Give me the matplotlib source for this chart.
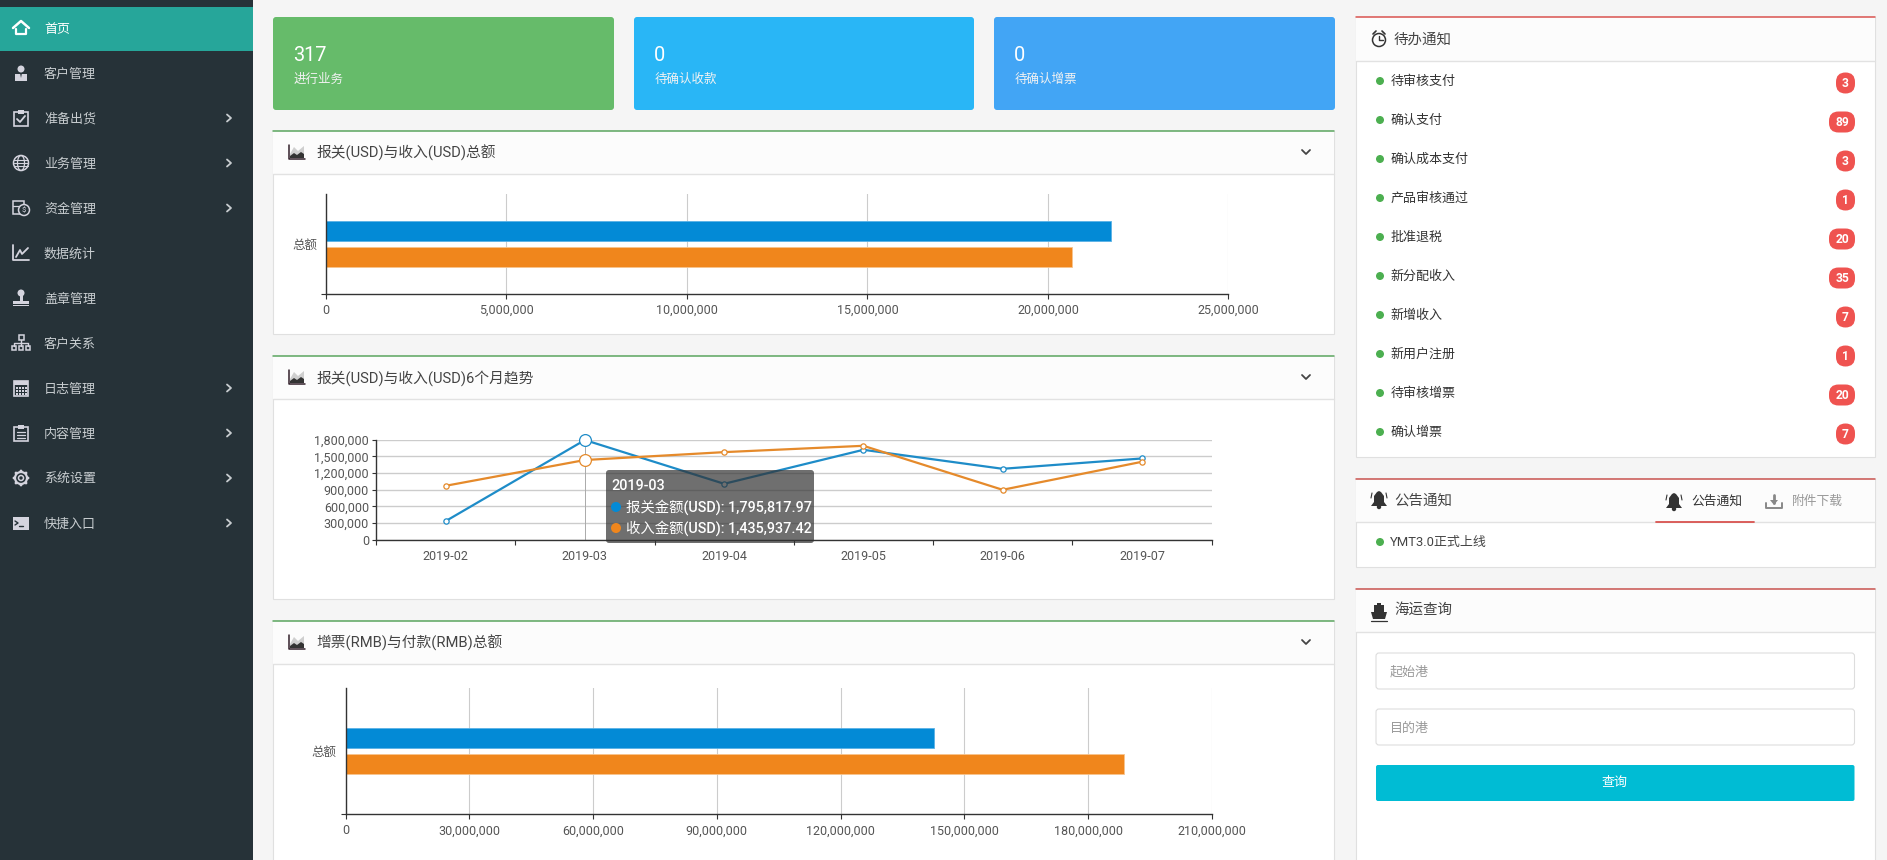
import matplotlib
matplotlib.use("Agg")
import matplotlib.pyplot as plt
from matplotlib.patches import Circle, Ellipse, FancyBboxPatch, Polygon, Rectangle
from matplotlib.ticker import FuncFormatter

plt.rcParams["font.family"] = ["Roboto", "Noto Sans CJK SC", "DejaVu Sans"]

W, H = 1887, 860
PX = 0.72  # one pixel in points at dpi 100

BLUE = "#038ad6"
ORANGE = "#f0861c"

# sidebar
menu_labels = ["首页", "客户管理", "准备出货", "业务管理", "资金管理", "数据统计",
               "盖章管理", "客户关系", "日志管理", "内容管理", "系统设置", "快捷入口"]
menu_icons = ["house", "person", "check", "globe", "money", "trend",
              "stamp", "tree", "calendar", "list", "gear", "term"]
menu_has_sub = [False, False, True, True, True, False, False, False, True, True, True, True]

# stat cards
card_values = ["317", "0", "0"]
card_labels = ["进行业务", "待确认收款", "待确认增票"]
card_colors = ["#66bb6a", "#29b6f6", "#42a5f5"]

# first bar chart
usd_category = ["总额"]
usd_declared = [21760000]
usd_income = [20670000]
usd_ticks = [0, 5000000, 10000000, 15000000, 20000000, 25000000]

# trend chart
months = ["2019-02", "2019-03", "2019-04", "2019-05", "2019-06", "2019-07"]
trend_declared = [336000, 1795817.97, 1008000, 1620000, 1278000, 1464000]
trend_income = [972000, 1435937.42, 1578000, 1692000, 900000, 1404000]
trend_ticks = [0, 300000, 600000, 900000, 1200000, 1500000, 1800000]
tooltip_index = 1

# second bar chart
rmb_category = ["总额"]
rmb_invoice = [142600000]
rmb_payment = [188700000]
rmb_ticks = [0, 30000000, 60000000, 90000000, 120000000, 150000000, 180000000, 210000000]

# right column
todo_labels = ["待审核支付", "确认支付", "确认成本支付", "产品审核通过", "批准退税",
               "新分配收入", "新增收入", "新用户注册", "待审核增票", "确认增票"]
todo_counts = [3, 89, 3, 1, 20, 35, 7, 1, 20, 7]


def px_axes(x0, y0, x1, y1, zorder=1):
    """Axes placed by its pixel box, y measured from the top of the picture."""
    ax = fig.add_axes([x0 / W, 1 - y1 / H, (x1 - x0) / W, (y1 - y0) / H], zorder=zorder)
    return ax


def label(x, y, s, size=13, color="#333333", ha="left", target=None, **kw):
    # centred text sits a little high compared with the browser rendering
    (target or ui).text(x, y + 1.2, s, fontsize=size * PX, color=color, ha=ha, va="center", **kw)


def rrect(x0, y0, x1, y1, color, r=3, target=None, edge="none", lw=0, alpha=None, z=2):
    p = FancyBboxPatch((x0 + r, y0 + r), x1 - x0 - 2 * r, y1 - y0 - 2 * r,
                       boxstyle=f"round,pad={r},rounding_size={r}", fc=color, ec=edge,
                       lw=lw, alpha=alpha, zorder=z)
    (target or ui).add_patch(p)


def poly(pts, color="#333333", lw=1.4, target=None, closed=False, fill=False, z=4):
    xs, ys = zip(*pts)
    if fill:
        ui.add_patch(Polygon(pts, fc=color, ec="none", zorder=z))
    else:
        if closed:
            xs, ys = xs + xs[:1], ys + ys[:1]
        ui.plot(xs, ys, color=color, lw=lw, solid_capstyle="round", zorder=z)


def box(x0, y0, x1, y1, fc="none", ec="none", lw=1.0, z=4):
    ui.add_patch(Rectangle((x0, y0), x1 - x0, y1 - y0, fc=fc, ec=ec, lw=lw, zorder=z))


def dot(x, y, r, fc="none", ec="none", lw=1.0, z=4):
    ui.add_patch(Circle((x, y), r, fc=fc, ec=ec, lw=lw, zorder=z))


def icon(kind, x, y, c):
    if kind == "house":
        poly([(x - 8, y), (x, y - 7), (x + 8, y)], c, 1.8)
        poly([(x - 5, y + 1), (x - 5, y + 6), (x + 5, y + 6), (x + 5, y + 1)], c, 1.6)
        box(x - 5, y + 5, x + 5, y + 7, fc=c)
    elif kind == "person":
        dot(x, y - 4, 3.5, fc=c)
        poly([(x - 6, y + 1), (x + 6, y + 1), (x + 6, y + 8), (x - 6, y + 8)], c, fill=True)
        poly([(x - 1, y), (x + 1, y), (x, y + 5)], "#263238", fill=True)
    elif kind == "check":
        box(x - 7, y - 6, x + 7, y + 8, ec=c, lw=1.2)
        box(x - 3, y - 8, x + 3, y - 4, fc=c)
        poly([(x - 4, y + 1), (x - 1, y + 4), (x + 4, y - 2)], c, 1.3)
    elif kind == "globe":
        dot(x, y, 7.5, ec=c, lw=1.1)
        ui.add_patch(Ellipse((x, y), 7, 15, fc="none", ec=c, lw=0.9, zorder=4))
        for dy in (-3, 0, 3):
            poly([(x - 7, y + dy), (x + 7, y + dy)], c, 0.8)
    elif kind == "money":
        box(x - 8, y - 7, x + 3, y + 6, ec=c, lw=1.1)
        poly([(x - 8, y - 2), (x + 3, y - 2)], c, 0.9)
        dot(x + 3, y + 2, 5.5, fc="#263238", ec=c, lw=1.1, z=5)
        label(x + 3, y + 1, "$", 8, c, ha="center", zorder=6)
    elif kind == "trend":
        poly([(x - 8, y - 8), (x - 8, y + 7), (x + 8, y + 7)], c, 1.3)
        poly([(x - 5, y + 4), (x - 1, y - 3), (x + 1, y + 1), (x + 7, y - 5)], c, 1.3)
    elif kind == "stamp":
        dot(x, y - 5, 3.5, fc=c)
        box(x - 1.5, y - 3, x + 1.5, y + 3, fc=c)
        box(x - 8, y + 3, x + 8, y + 6, fc=c)
        box(x - 8, y + 7, x + 8, y + 8, fc=c)
    elif kind == "tree":
        box(x - 2.5, y - 8, x + 2.5, y - 3, ec=c, lw=1.1)
        for dx in (-7, 0, 7):
            box(x + dx - 2, y + 3, x + dx + 2, y + 7, ec=c, lw=1.1)
        poly([(x, y - 3), (x, y + 3)], c, 1)
        poly([(x - 7, y + 3), (x - 7, y), (x + 7, y), (x + 7, y + 3)], c, 1)
    elif kind == "calendar":
        box(x - 7, y - 7, x + 7, y + 8, ec=c, lw=1.2)
        box(x - 7, y - 7, x + 7, y - 3, fc=c)
        for dy in (0, 3, 6):
            for dx in (-4, -1, 2, 5):
                box(x + dx - 1, y + dy - 1, x + dx + 1, y + dy + 1, fc=c)
    elif kind == "list":
        box(x - 7, y - 6, x + 7, y + 8, ec=c, lw=1.2)
        box(x - 3, y - 8, x + 3, y - 4, fc=c)
        for dy in (-1, 2, 5):
            poly([(x - 4, y + dy), (x + 4, y + dy)], c, 0.9)
    elif kind == "gear":
        dot(x, y, 6, ec=c, lw=1.6)
        dot(x, y, 2.5, ec=c, lw=1.1)
        for dx, dy in [(0, -7), (0, 7), (-7, 0), (7, 0), (5, 5), (-5, 5), (5, -5), (-5, -5)]:
            dot(x + dx, y + dy, 1.4, fc=c)
    elif kind == "term":
        box(x - 8, y - 6, x + 8, y + 7, fc=c)
        poly([(x - 6, y - 2), (x - 3, y), (x - 6, y + 2)], "#263238", 1)
        poly([(x - 2, y + 3), (x + 2, y + 3)], "#263238", 1)


def area_icon(x, y):
    poly([(x - 8, y - 7), (x - 8, y + 7), (x + 8, y + 7)], "#33202a", 1.1)
    poly([(x - 7, y + 2), (x - 3, y - 5), (x + 1, y - 1), (x + 7, y - 6), (x + 7, y + 6), (x - 7, y + 6)],
         "#cfcfcf", fill=True)
    poly([(x - 7, y + 4), (x - 3, y + 1), (x, y + 3), (x + 4, y), (x + 7, y + 2), (x + 7, y + 6), (x - 7, y + 6)],
         "#333333", fill=True, z=5)


def bell(x, y, c="#333333"):
    poly([(x - 8, y + 7), (x - 5, y + 3), (x - 5, y - 3), (x - 2, y - 7), (x, y - 8), (x + 2, y - 7),
          (x + 5, y - 3), (x + 5, y + 3), (x + 8, y + 7)], c, fill=True)
    dot(x, y + 8, 2.2, fc=c)
    poly([(x - 8, y - 1), (x - 7, y - 6)], c, 0.8)
    poly([(x + 8, y - 1), (x + 7, y - 6)], c, 0.8)


def panel(x0, y0, x1, y1, header_y, accent):
    """Card with a coloured top rule and a light header band."""
    box(x0, y0, x1, y1, fc="white", ec="#e0e0e0", lw=0.8, z=1)
    box(x0, y0, x1, header_y, fc="#fcfcfc", z=1)
    poly([(x0, header_y), (x1, header_y)], "#e2e2e2", 1.0, z=2)
    poly([(x0, y0), (x1, y0)], accent, 1.1, z=2)


def comma(v, _pos=None):
    return f"{v:,.0f}"


def style_axes(ax):
    ax.set_facecolor("none")
    for side in ("top", "right"):
        ax.spines[side].set_visible(False)
    for side in ("left", "bottom"):
        ax.spines[side].set_color("#333333")
        ax.spines[side].set_linewidth(1.0)
    ax.set_axisbelow(True)
    ax.tick_params(axis="both", which="both", color="#333333", labelcolor="#555555",
                   labelsize=12.5 * PX, width=0.8, length=5 * PX, pad=6 * PX)


def hbar_chart(box_px, categories, first, second, ticks, bar_h, offset, tick_pad):
    ax = px_axes(*box_px)
    style_axes(ax)
    ax.barh([offset * -1], first, height=bar_h, color=BLUE, edgecolor="#5ab2e6", lw=0.6)
    ax.barh([offset], second, height=bar_h, color=ORANGE, edgecolor="#f7c48e", lw=0.6)
    ax.set_xlim(ticks[0], ticks[-1])
    ax.set_ylim(0.5, -0.5)
    ax.set_xticks(ticks)
    ax.xaxis.set_major_formatter(FuncFormatter(comma))
    ax.set_yticks([0], categories)
    ax.set_yticks([0.5], minor=True)
    ax.tick_params(axis="y", which="major", length=0, pad=9 * PX)
    ax.tick_params(axis="x", pad=tick_pad * PX)
    ax.grid(axis="x", color="#cccccc", lw=0.8)
    return ax


fig = plt.figure(figsize=(W / 100, H / 100), dpi=100, facecolor="#f5f5f5")

ui = fig.add_axes([0, 0, 1, 1], zorder=0)
ui.set_xlim(0, W)
ui.set_ylim(H, 0)
ui.axis("off")

# top layer, only for the tooltip that sits over the trend chart
top = fig.add_axes([0, 0, 1, 1], zorder=5)
top.set_xlim(0, W)
top.set_ylim(H, 0)
top.axis("off")

# sidebar
box(0, 0, 253, H, fc="#263238", z=1)
box(0, 7, 253, 51, fc="#26a69a", z=2)
for i, (name, kind, sub) in enumerate(zip(menu_labels, menu_icons, menu_has_sub)):
    y = 28 + i * 45
    active = i == 0
    icon(kind, 21, y, "white" if active else "#d4d4de")
    label(44, y, name, 13, "white" if active else "#c8cdd0", zorder=5)
    if sub:
        poly([(227, y - 3.5), (231, y), (227, y + 3.5)], "#c8cdd0", 1.3)

# stat cards
for (x0, x1), val, txt, col in zip([(273, 614), (634, 974), (994, 1335)],
                                   card_values, card_labels, card_colors):
    rrect(x0, 17, x1, 110, col)
    label(x0 + 20, 54, val, 20, "white", zorder=5)
    label(x0 + 21, 78, txt, 12.5, "#f2f2f2", zorder=5)

# left panels
panel(273, 131, 1334, 334, 173.5, "#5ba55f")
panel(273, 356, 1334, 599, 398.5, "#5ba55f")
panel(273, 621, 1334, H + 5, 663.5, "#5ba55f")
for y, title in [(152, "报关(USD)与收入(USD)总额"), (377, "报关(USD)与收入(USD)6个月趋势"),
                 (642, "增票(RMB)与付款(RMB)总额")]:
    area_icon(297, y)
    label(316, y, title, 14.7, "#444444", zorder=5)
    poly([(1302, y - 2), (1306, y + 2), (1310, y - 2)], "#444444", 1.3)

hbar_chart((326, 194, 1228.4, 294.3), usd_category, usd_declared, usd_income, usd_ticks, 0.2, 0.13, 4.5)
hbar_chart((345.5, 688, 1211.8, 814), rmb_category, rmb_invoice, rmb_payment, rmb_ticks, 0.159, 0.103, 5.5)

# trend chart
ax = px_axes(376, 439.8, 1211.5, 539.8)
style_axes(ax)
pos = list(range(len(months)))
ax.grid(axis="y", color="#cccccc", lw=1.0)
ax.plot([pos[tooltip_index]] * 2, [0, trend_ticks[-1]], color="#aaaaaa", lw=0.7)
for series, col in [(trend_declared, "#1e8cc8"), (trend_income, "#e58a2b")]:
    ax.plot(pos, series, color=col, lw=1.6, marker="o", ms=3.8, mfc="white", mec=col,
            mew=0.9, clip_on=False)
    ax.plot(pos[tooltip_index], series[tooltip_index], marker="o", ms=8.5, mfc="white",
            mec=col, mew=0.9, clip_on=False)
ax.set_xlim(-0.5, len(months) - 0.5)
ax.set_ylim(trend_ticks[0], trend_ticks[-1])
ax.set_yticks(trend_ticks)
ax.yaxis.set_major_formatter(FuncFormatter(comma))
ax.set_xticks(pos, months)
ax.set_xticks([p - 0.5 for p in pos] + [pos[-1] + 0.5], minor=True)
ax.tick_params(axis="x", which="major", length=0, pad=10 * PX)
ax.tick_params(axis="y", length=4 * PX, pad=3 * PX)

# tooltip
rrect(606, 470, 814, 543, "#323232", r=3, target=top, alpha=0.7)
label(611, 485, months[tooltip_index], 14.4, "white", target=top, zorder=6, fontweight="medium")
for y, name, series, col in [(506, "报关金额(USD)", trend_declared, BLUE),
                             (527, "收入金额(USD)", trend_income, ORANGE)]:
    top.add_patch(Circle((616, y + 1), 5, fc=col, ec="none", zorder=6))
    label(626, y, f"{name}: {series[tooltip_index]:,.2f}", 14.4, "white", target=top, zorder=6,
          fontweight="medium")

# right column: to-do list
panel(1356, 17, 1875, 457, 60.5, "#d9534f")
dot(1379, 40, 6.5, ec="#333333", lw=1.1)
poly([(1379, 36), (1379, 40), (1383, 40)], "#333333", 1)
poly([(1373, 34), (1376, 31)], "#333333", 1.2)
poly([(1385, 34), (1382, 31)], "#333333", 1.2)
label(1394, 38, "待办通知", 14.5, "#444444", zorder=5)
for i, (name, n) in enumerate(zip(todo_labels, todo_counts)):
    y = 81 + i * 39
    dot(1380, y, 4, fc="#4caf50")
    label(1390.5, y - 1, name, 13, "#333333", zorder=5)
    x0 = 1829 if n >= 10 else 1836
    rrect(x0, y - 8.5, 1855, y + 12.5, "#ef5350", r=9.5, z=3)
    label((x0 + 1855) / 2, y + 1, str(n), 12, "white", ha="center", fontweight="bold", zorder=5)

# right column: notices
panel(1356, 479, 1875, 567, 521.5, "#c9534f")
bell(1379, 499)
label(1394, 499, "公告通知", 14.5, "#444444", zorder=5)
bell(1674, 501)
label(1691.5, 500, "公告通知", 12.8, "#333333", zorder=5)
poly([(1656, 521.5), (1754, 521.5)], "#d9534f", 1.3)
poly([(1774, 495), (1774, 503)], "#888888", 2)
poly([(1770, 500), (1774, 505), (1778, 500)], "#888888", fill=True)
poly([(1766, 503), (1766, 508), (1782, 508), (1782, 503)], "#888888", 1.4)
label(1792, 500, "附件下载", 12.8, "#999999", zorder=5)
dot(1380, 542, 4, fc="#4caf50")
label(1390, 541, "YMT3.0正式上线", 13, "#444444", zorder=5)

# right column: shipping search
panel(1356, 589, 1875, H + 5, 632, "#c9534f")
poly([(1371, 612), (1387, 612), (1385, 619), (1373, 619)], "#333333", fill=True)
box(1374, 605, 1384, 612, fc="#333333")
box(1377, 603, 1381, 605, fc="#333333")
poly([(1371, 621), (1387, 621)], "#333333", 0.9)
label(1394, 609, "海运查询", 14.5, "#444444", zorder=5)
for y0, hint in [(653, "起始港"), (709, "目的港")]:
    rrect(1376, y0, 1854.5, y0 + 36, "white", edge="#dddddd", lw=0.8)
    label(1390, y0 + 18, hint, 13, "#999999", zorder=5)
rrect(1376, 765, 1854.5, 801, "#00bcd4", r=2)
label(1615, 781, "查询", 13, "white", ha="center", zorder=5)

fig.savefig("out.png", dpi=100, facecolor=fig.get_facecolor())
